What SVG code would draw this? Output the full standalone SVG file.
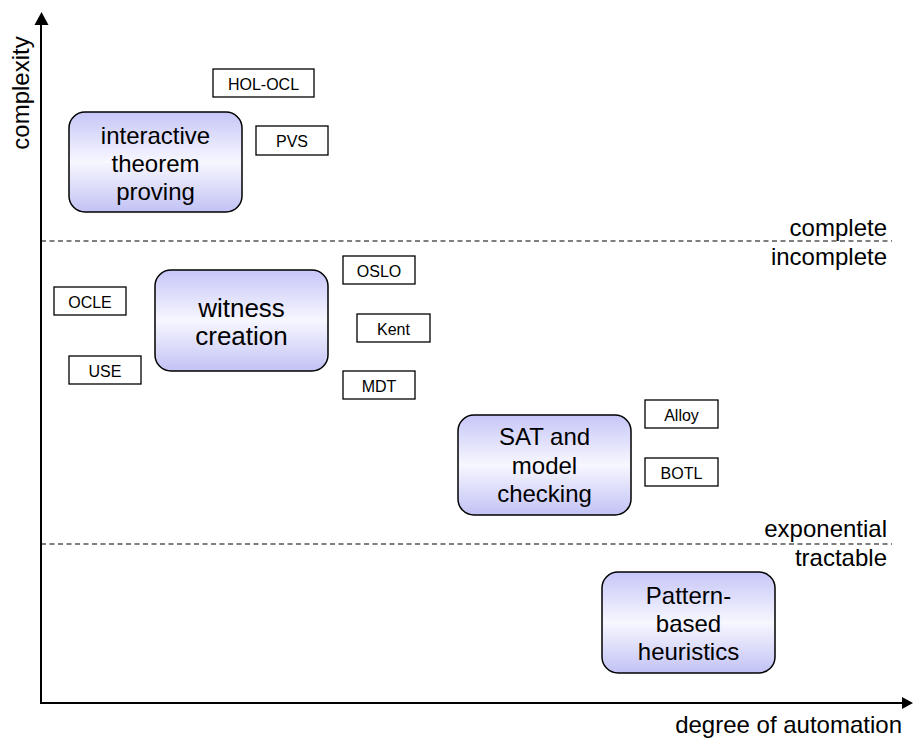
<svg xmlns="http://www.w3.org/2000/svg" width="913" height="738" viewBox="0 0 913 738">
  <style>
    text { font-family: "Liberation Sans", Arial, sans-serif; fill: #000; }
    .big { font-size: 24px; text-anchor: middle; }
    .bigger { font-size: 26px; text-anchor: middle; }
    .small { font-size: 16px; text-anchor: middle; }
    .axis { font-size: 24px; }
    .region { fill: url(#lavender); stroke: #000; stroke-width: 1.5; }
    .tool { fill: #fff; stroke: #000; stroke-width: 1.3; }
    .divider { stroke: #000; stroke-width: 1.2; stroke-dasharray: 5 3.5; fill: none; }
    .axisline { stroke: #000; stroke-width: 2; fill: none; }
  </style>
  <defs>
    <linearGradient id="lavender" x1="0" y1="0" x2="0" y2="1">
      <stop offset="0" stop-color="#c6c6f8"/>
      <stop offset="0.5" stop-color="#f7f7ff"/>
      <stop offset="1" stop-color="#c2c2f5"/>
    </linearGradient>
  </defs>

  <rect width="913" height="738" fill="#fff"/>

  <!-- axes -->
  <g id="axes">
    <path class="axisline" d="M41,703 L41,24"/>
    <path d="M34.5,25 L41.5,12 L48.5,25 Z" fill="#000"/>
    <path class="axisline" d="M40,703 L903,703"/>
    <path d="M902,697 L913,703 L902,709 Z" fill="#000"/>
    <text class="axis" transform="translate(29,93) rotate(-90)" text-anchor="middle">complexity</text>
    <text class="axis" x="902" y="733" text-anchor="end">degree of automation</text>
  </g>

  <!-- class boundaries -->
  <g id="boundaries">
    <line class="divider" x1="41" y1="241" x2="892" y2="241"/>
    <text class="axis" x="887" y="236" text-anchor="end">complete</text>
    <text class="axis" x="887" y="265" text-anchor="end">incomplete</text>
    <line class="divider" x1="41" y1="544" x2="892" y2="544"/>
    <text class="axis" x="887" y="537" text-anchor="end">exponential</text>
    <text class="axis" x="887" y="566" text-anchor="end">tractable</text>
  </g>

  <!-- approach regions -->
  <g id="itp">
    <rect class="region" x="69" y="112" width="173" height="100" rx="16"/>
    <text class="big" x="155.5" y="143.5">interactive</text>
    <text class="big" x="155.5" y="171.5">theorem</text>
    <text class="big" x="155.5" y="199.5">proving</text>
  </g>
  <g id="witness">
    <rect class="region" x="155" y="270" width="173" height="101" rx="16"/>
    <text class="bigger" x="241.5" y="317">witness</text>
    <text class="bigger" x="241.5" y="345">creation</text>
  </g>
  <g id="sat">
    <rect class="region" x="458" y="415" width="173" height="100" rx="16"/>
    <text class="big" x="544.5" y="445">SAT and</text>
    <text class="big" x="544.5" y="473.5">model</text>
    <text class="big" x="544.5" y="502">checking</text>
  </g>
  <g id="pattern">
    <rect class="region" x="602" y="572" width="173" height="101" rx="16"/>
    <text class="big" x="688.5" y="603.5">Pattern-</text>
    <text class="big" x="688.5" y="632">based</text>
    <text class="big" x="688.5" y="660">heuristics</text>
  </g>

  <!-- tools -->
  <g id="holocl">
    <rect class="tool" x="213" y="69" width="101" height="28"/>
    <text class="small" x="263.5" y="89.5">HOL-OCL</text>
  </g>
  <g id="pvs">
    <rect class="tool" x="256" y="126" width="72" height="29"/>
    <text class="small" x="292" y="146.5">PVS</text>
  </g>
  <g id="ocle">
    <rect class="tool" x="54" y="287" width="72" height="28"/>
    <text class="small" x="90" y="307.5">OCLE</text>
  </g>
  <g id="use">
    <rect class="tool" x="69" y="356" width="72" height="28"/>
    <text class="small" x="105" y="376.5">USE</text>
  </g>
  <g id="oslo">
    <rect class="tool" x="343" y="256" width="72" height="28"/>
    <text class="small" x="379" y="276.5">OSLO</text>
  </g>
  <g id="kent">
    <rect class="tool" x="357" y="314" width="73" height="28"/>
    <text class="small" x="393.5" y="334.5">Kent</text>
  </g>
  <g id="mdt">
    <rect class="tool" x="343" y="371" width="72" height="28"/>
    <text class="small" x="379" y="391.5">MDT</text>
  </g>
  <g id="alloy">
    <rect class="tool" x="645" y="400" width="73" height="28"/>
    <text class="small" x="681.5" y="420.5">Alloy</text>
  </g>
  <g id="botl">
    <rect class="tool" x="645" y="458" width="73" height="28"/>
    <text class="small" x="681.5" y="478.5">BOTL</text>
  </g>
</svg>
